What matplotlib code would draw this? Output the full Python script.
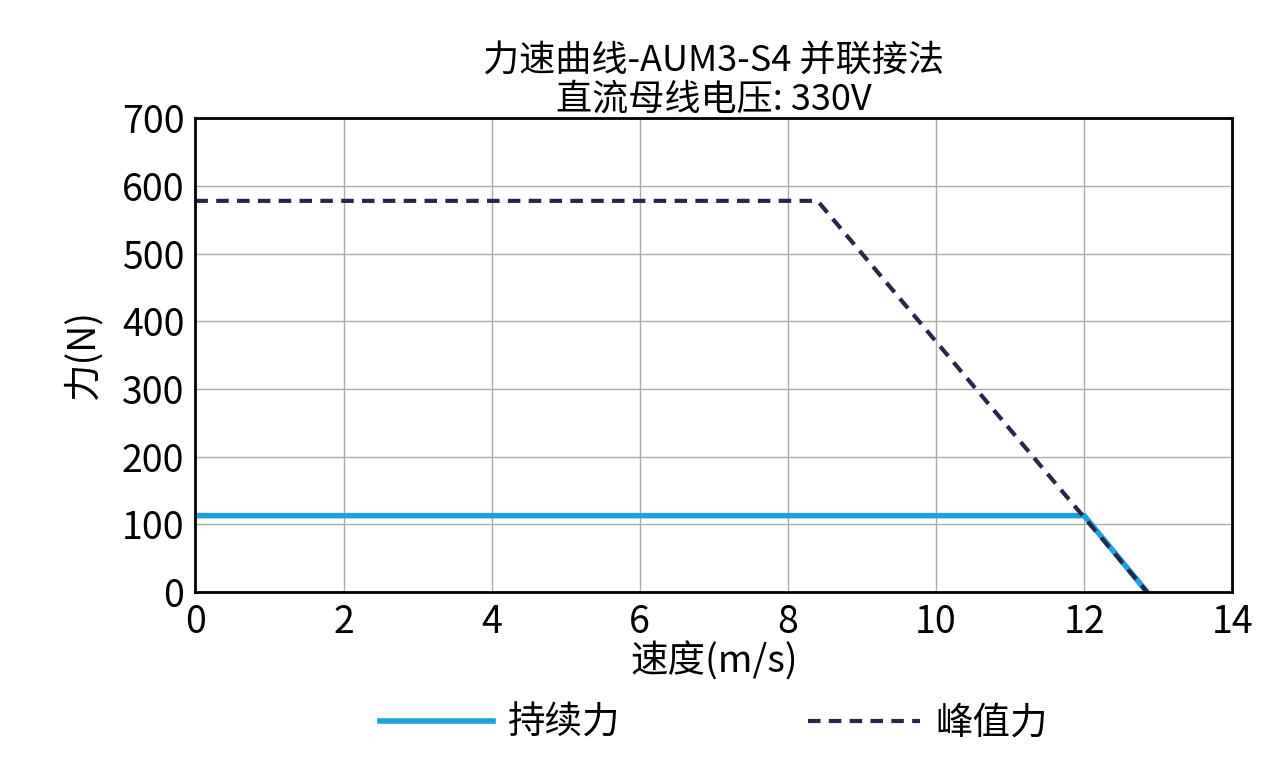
import matplotlib.pyplot as plt

plt.rcParams['font.family'] = ['Noto Sans CJK SC', 'DejaVu Sans']

# continuous force curve
cont_v = [0, 12.0, 12.85]
cont_f = [113, 113, 0]
# peak force curve
peak_v = [0, 8.4, 12.85]
peak_f = [578, 578, 0]

fig = plt.figure(figsize=(12.77, 7.68), dpi=100)
ax = fig.add_axes([0.153, 0.229, 0.812, 0.617])
ax.plot(cont_v, cont_f, color='#1ba1dc', linewidth=4, label='持续力')
ax.plot(peak_v, peak_f, color='#262945', linewidth=3, linestyle=(0, (3, 2)), label='峰值力')
ax.set_xlim(0, 14)
ax.set_ylim(0, 700)
ax.set_xticks(range(0, 15, 2))
ax.set_yticks(range(0, 701, 100))
ax.grid(color='#aaaaaa', linewidth=1)
ax.tick_params(labelsize=27, length=0, pad=8)
for s in ax.spines.values():
    s.set_linewidth(2)
ax.set_title('力速曲线-AUM3-S4 并联接法\n直流母线电压: 330V', fontsize=26, linespacing=1.1, pad=6)
ax.set_xlabel('速度(m/s)', fontsize=27, labelpad=0)
ax.set_ylabel('力(N)', fontsize=27, labelpad=14)
ax.legend(loc='upper center', bbox_to_anchor=(0.5, -0.165), ncol=2, frameon=False,
          fontsize=27, handlelength=3, handletextpad=0.4, columnspacing=5)
fig.savefig('out.png', dpi=100)
